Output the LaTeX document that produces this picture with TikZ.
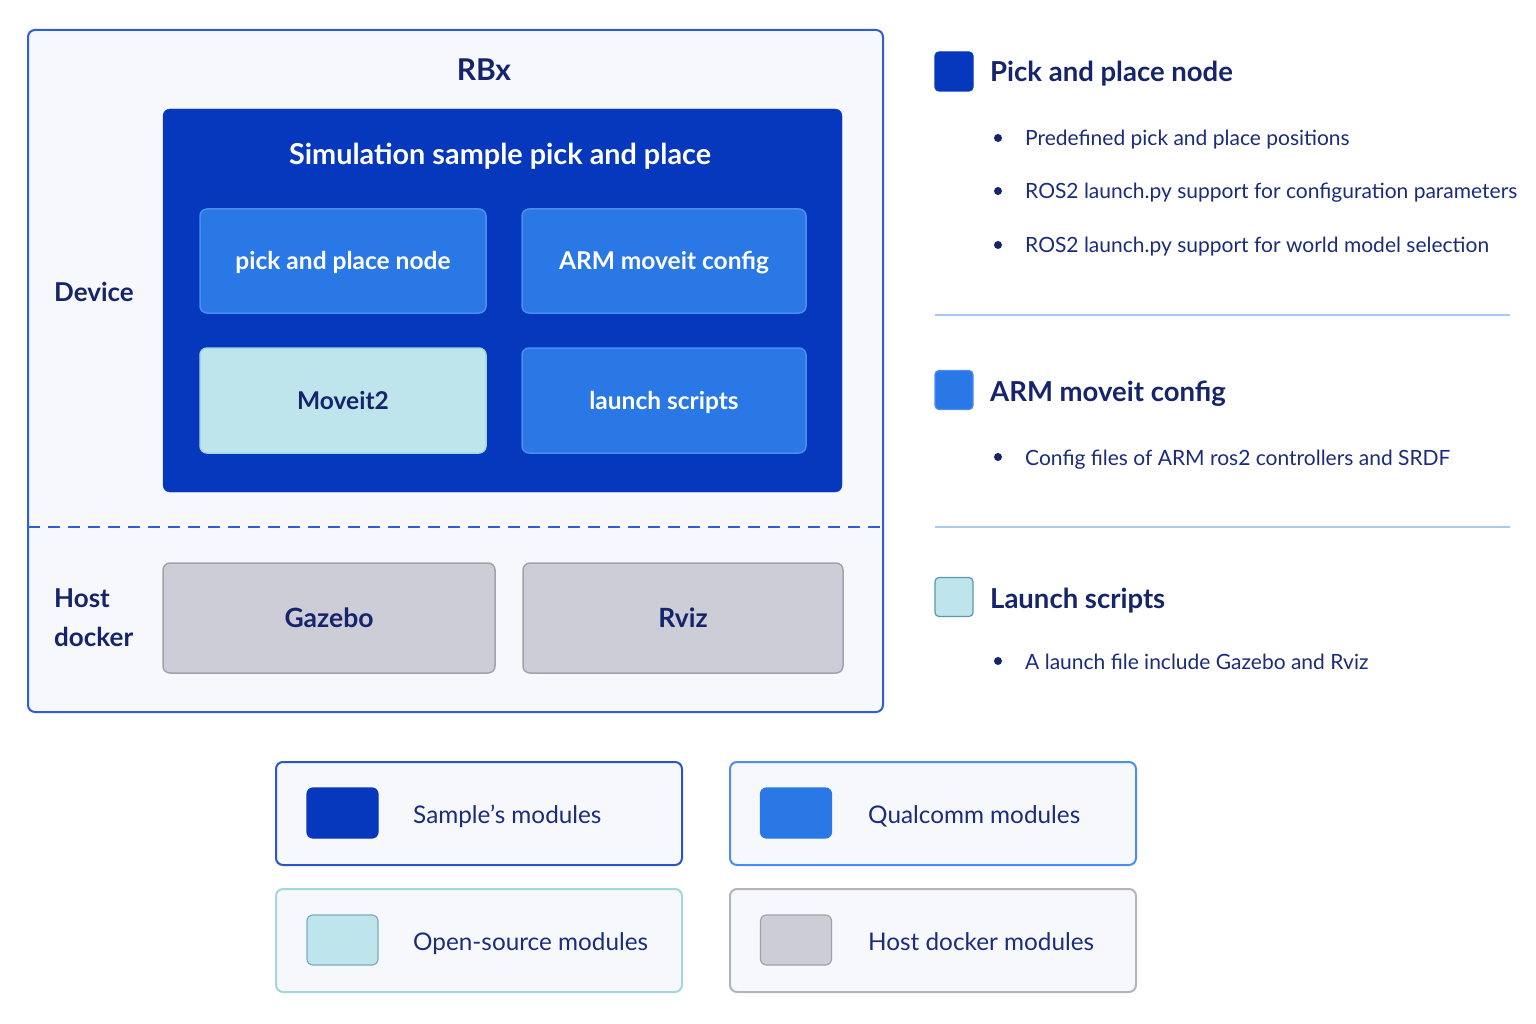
\documentclass[tikz,border=0pt]{standalone}
\usepackage{fontspec}
\setmainfont{Lato}
\definecolor{rbxborder}{HTML}{2F5FD0}
\definecolor{rbxfill}{HTML}{F7F8FB}
\definecolor{darkblue}{HTML}{0638BE}
\definecolor{midblue}{HTML}{2A78E6}
\definecolor{midborder}{HTML}{4B8DF0}
\definecolor{lightcyan}{HTML}{BEE5EC}
\definecolor{cyanborder}{HTML}{A4D6E2}
\definecolor{tealborder}{HTML}{5D97A8}
\definecolor{greyfill}{HTML}{CCCDD7}
\definecolor{greyborder}{HTML}{A0A2AE}
\definecolor{navy}{HTML}{15246B}
\definecolor{navytext}{HTML}{1B2C7A}
\definecolor{divider}{HTML}{A9C9F2}
\begin{document}
\begin{tikzpicture}[x=1pt,y=-1pt,
  box/.style={draw, rounded corners=7pt, line width=1.5pt, inner sep=0pt, align=center,
    text height=20pt, text depth=2pt},
  modbox/.style={box, fill=midblue, draw=midborder, text=white, font=\fontsize{24.5}{28}\selectfont\bfseries},
  hostbox/.style={box, fill=greyfill, draw=greyborder, text=navy, font=\fontsize{26.5}{30}\selectfont\bfseries},
  sectlabel/.style={text=navy, font=\fontsize{26}{39}\selectfont\bfseries, align=left},
  legsq/.style={rounded corners=4pt, line width=1.2pt, minimum width=38, minimum height=39, inner sep=0pt},
  legtitle/.style={anchor=base west, yshift=-10pt, text=navy, font=\fontsize{27.5}{32}\selectfont\bfseries, inner sep=0pt},
  bulletdot/.style={circle, fill=navy, minimum size=8, inner sep=0pt},
  bullettext/.style={anchor=base west, yshift=-8pt, text=navytext, font=\fontsize{21}{25}\selectfont, inner sep=0pt},
  keybox/.style={rounded corners=7pt, line width=2pt, fill=rbxfill, minimum width=406, minimum height=103, inner sep=0pt},
  keysq/.style={rounded corners=6pt, line width=1.2pt, minimum width=71, minimum height=50, inner sep=0pt},
  keytext/.style={anchor=base west, yshift=-8pt, text=navytext, font=\fontsize{24.3}{28}\selectfont, inner sep=0pt},
  divline/.style={draw=divider, line width=1.5pt}
]
\useasboundingbox[fill=white] (0,0) rectangle (1536,1024);

% RBx outer container
\node[draw=rbxborder, fill=rbxfill, line width=2pt, rounded corners=7pt,
      minimum width=855, minimum height=682, inner sep=0pt] (rbx) at (455.5,371) {};
\node[text=navy, font=\fontsize{30}{34}\selectfont\bfseries] (rbxlabel) at (484,70) {RBx};

% dashed separator
\coordinate (dashL) at (28,527);
\coordinate (dashR) at (883,527);
\draw[draw=rbxborder, line width=2pt, dash pattern=on 12pt off 8pt] (dashL) -- (dashR);

% Simulation sample container
\node[fill=darkblue, draw=darkblue, rounded corners=7pt, minimum width=679, minimum height=383, inner sep=0pt] (sim) at (502.5,300.5) {};
\node[text=white, font=\fontsize{28.8}{32}\selectfont\bfseries] (simlabel) at (500,156) {Simulation sample pick and place};

\node[modbox, minimum width=286, minimum height=104] (pick) at (343,261) {pick and place node};
\node[modbox, minimum width=284, minimum height=104] (arm) at (664,261) {ARM moveit config};
\node[box, fill=lightcyan, draw=cyanborder, text=navy, font=\fontsize{24.5}{28}\selectfont\bfseries,
      minimum width=286, minimum height=105] (moveit) at (343,400.5) {Moveit2};
\node[modbox, minimum width=284, minimum height=105] (launch) at (664,400.5) {launch scripts};

\node[sectlabel] (device) at (94,292) {Device};
\node[sectlabel, anchor=west, inner sep=0pt] (hostlabel) at (54,618) {Host\\docker};

\node[hostbox, minimum width=332, minimum height=110] (gazebo) at (329,618) {Gazebo};
\node[hostbox, minimum width=320, minimum height=110] (rviz) at (683,618) {Rviz};

% Right legend
\node[legsq, fill=darkblue, draw=darkblue] (sq1) at (954,71.5) {};
\node[legtitle] (t1) at (990,72) {Pick and place node};
\node[bulletdot] (b11) at (998,138) {};
\node[bullettext] (p11) at (1025,138) {Predefined pick and place positions};
\node[bulletdot] (b12) at (998,191) {};
\node[bullettext] (p12) at (1025,191) {ROS2 launch.py support for configuration parameters};
\node[bulletdot] (b13) at (998,245) {};
\node[bullettext] (p13) at (1025,245) {ROS2 launch.py support for world model selection};

\coordinate (d1L) at (935,315);
\coordinate (d1R) at (1510,315);
\draw[divline] (d1L) -- (d1R);

\node[legsq, fill=midblue, draw=midborder] (sq2) at (954,390) {};
\node[legtitle] (t2) at (990,391) {ARM moveit config};
\node[bulletdot] (b21) at (998,457) {};
\node[bullettext] (p21) at (1025,457) {Config files of ARM ros2 controllers and SRDF};

\coordinate (d2L) at (935,527);
\coordinate (d2R) at (1510,527);
\draw[divline] (d2L) -- (d2R);

\node[legsq, fill=lightcyan, draw=tealborder] (sq3) at (954,597) {};
\node[legtitle] (t3) at (990,598) {Launch scripts};
\node[bulletdot] (b31) at (998,661) {};
\node[bullettext] (p31) at (1025,661) {A launch file include Gazebo and Rviz};

% Bottom key
\node[keybox, draw=darkblue!85!white] (k1) at (479,813.5) {};
\node[keysq, fill=darkblue, draw=darkblue] (k1sq) at (342.5,813) {};
\node[keytext] (k1t) at (413,815) {Sample's modules};

\node[keybox, draw=midborder] (k2) at (933,813.5) {};
\node[keysq, fill=midblue, draw=midblue] (k2sq) at (796,813) {};
\node[keytext] (k2t) at (868,815) {Qualcomm modules};

\node[keybox, draw=cyanborder] (k3) at (479,940.5) {};
\node[keysq, fill=lightcyan, draw=tealborder!70!lightcyan] (k3sq) at (342.5,940) {};
\node[keytext] (k3t) at (413,942) {Open-source modules};

\node[keybox, draw=greyborder!80!white] (k4) at (933,940.5) {};
\node[keysq, fill=greyfill, draw=greyborder] (k4sq) at (796,940) {};
\node[keytext] (k4t) at (868,942) {Host docker modules};
\end{tikzpicture}
\end{document}
